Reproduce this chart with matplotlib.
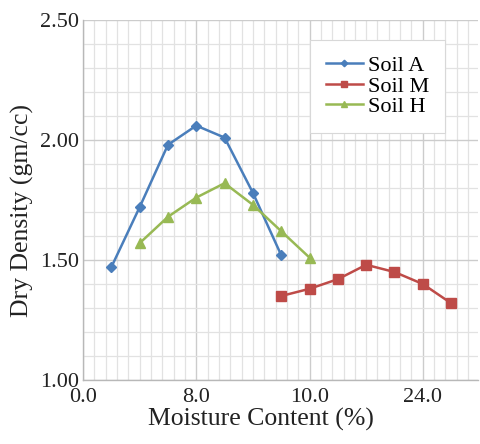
import matplotlib
matplotlib.use("Agg")
import matplotlib.pyplot as plt
from matplotlib.ticker import MultipleLocator, FixedLocator, FixedFormatter

# Data
soil_a_x = [2, 4, 6, 8, 10, 12, 14]
soil_a_y = [1.47, 1.72, 1.98, 2.06, 2.01, 1.78, 1.52]
soil_h_x = [4, 6, 8, 10, 12, 14, 16]
soil_h_y = [1.57, 1.68, 1.76, 1.82, 1.73, 1.62, 1.51]
soil_m_x = [14, 16, 18, 20, 22, 24, 26]
soil_m_y = [1.35, 1.38, 1.42, 1.48, 1.45, 1.40, 1.32]
x_tick_pos = [0, 8, 16, 24]
x_tick_labels = ["0.0", "8.0", "10.0", "24.0"]
y_tick_pos = [1.00, 1.50, 2.00, 2.50]
y_tick_labels = ["1.00", "1.50", "2.00", "2.50"]

plt.rcParams['font.family'] = ['Liberation Serif', 'DejaVu Serif']

fig = plt.figure(figsize=(4.8, 4.44), dpi=100)
ax = fig.add_axes([83/480, 64/444, (478-83)/480, 360/444])

ax.set_xlim(0, 27.9)
ax.set_ylim(1.0, 2.5)

# grid
ax.xaxis.set_major_locator(MultipleLocator(4))
ax.xaxis.set_minor_locator(MultipleLocator(0.8))
ax.yaxis.set_major_locator(MultipleLocator(0.5))
ax.yaxis.set_minor_locator(MultipleLocator(0.1))
ax.grid(which='minor', color='#e2e2e2', linewidth=0.9)
ax.grid(which='major', color='#cccccc', linewidth=1.0)
ax.set_axisbelow(True)

for s in ['top', 'right']:
    ax.spines[s].set_visible(False)
for s in ['left', 'bottom']:
    ax.spines[s].set_color('#b8b8b8')
    ax.spines[s].set_linewidth(1.0)

ax.plot(soil_a_x, soil_a_y, color='#4A7EBB', lw=1.8, marker='D', ms=5.5,
        label='Soil A', zorder=3)
ax.plot(soil_m_x, soil_m_y, color='#BE4B48', lw=1.8, marker='s', ms=6.5,
        label='Soil M', zorder=3)
ax.plot(soil_h_x, soil_h_y, color='#98B954', lw=1.8, marker='^', ms=7,
        label='Soil H', zorder=3)

# ticks
ax.xaxis.set_major_locator(FixedLocator(x_tick_pos))
ax.xaxis.set_major_formatter(FixedFormatter(x_tick_labels))
ax.yaxis.set_major_locator(FixedLocator(y_tick_pos))
ax.yaxis.set_major_formatter(FixedFormatter(y_tick_labels))
ax.tick_params(which='both', length=0)
ax.tick_params(axis='x', labelsize=16, pad=6, colors='#222222')
ax.tick_params(axis='y', labelsize=16, pad=3, colors='#222222')

ax.set_xlabel('Moisture Content (%)', fontsize=18.5, color='#222222')
ax.xaxis.set_label_coords(0.45, -0.078)
ax.set_ylabel('Dry Density (gm/cc)', fontsize=18.5, color='#222222')
ax.yaxis.set_label_coords(-0.125, 0.47)

leg = ax.legend(loc='upper left', bbox_to_anchor=(310/480, 1 - 40/444),
                bbox_transform=fig.transFigure, fontsize=16,
                frameon=True, fancybox=False, framealpha=1,
                edgecolor='#d8d8d8', handlelength=1.7, handletextpad=0.2,
                labelspacing=0.0, borderpad=0.7, borderaxespad=0,
                markerscale=0.6)
leg.get_frame().set_linewidth(0.8)

fig.savefig('out.png', dpi=100)
